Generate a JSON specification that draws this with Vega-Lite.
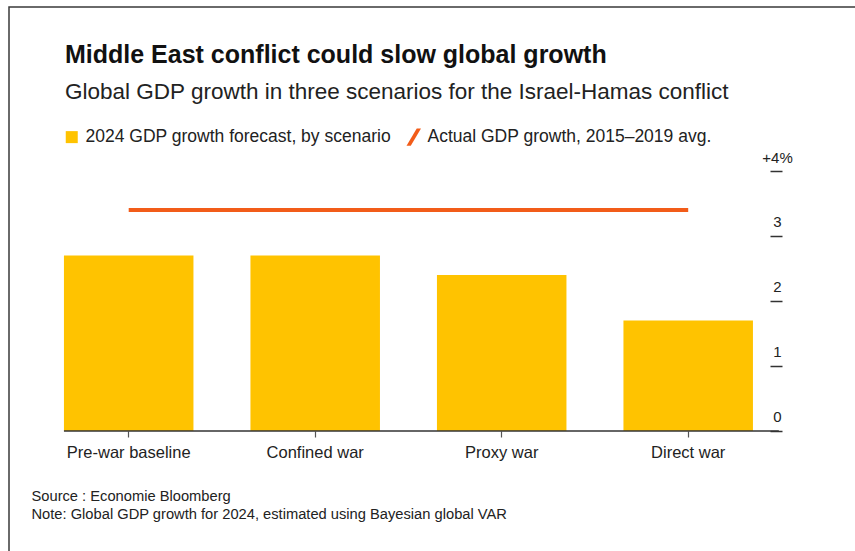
{
  "$schema": "https://vega.github.io/schema/vega-lite/v6.json",
  "width": 846,
  "height": 544,
  "autosize": {"type": "none"},
  "padding": {"left": 9, "top": 7, "right": 0, "bottom": 0},
  "background": "white",
  "config": {
    "view": {"stroke": "#3a3a3a", "strokeWidth": 1.5, "strokeDash": [846, 1390, 544, 10]},
    "font": "Liberation Sans"
  },
  "title": {
    "text": "Middle East conflict could slow global growth",
    "subtitle": "Global GDP growth in three scenarios for the Israel-Hamas conflict",
    "anchor": "start",
    "frame": "group",
    "orient": "top",
    "offset": -96,
    "dx": 56,
    "font": "Liberation Sans",
    "fontSize": 25,
    "fontWeight": "bold",
    "color": "#111111",
    "subtitleFont": "Liberation Sans",
    "subtitleFontSize": 22.5,
    "subtitleColor": "#222222",
    "subtitlePadding": 13
  },
  "datasets": {
    "bars": [
      {"scenario": "Pre-war baseline", "growth": 2.7, "series": "2024 GDP growth forecast, by scenario"},
      {"scenario": "Confined war", "growth": 2.7, "series": "2024 GDP growth forecast, by scenario"},
      {"scenario": "Proxy war", "growth": 2.4, "series": "2024 GDP growth forecast, by scenario"},
      {"scenario": "Direct war", "growth": 1.7, "series": "2024 GDP growth forecast, by scenario"}
    ],
    "avg": [
      {"from": "Pre-war baseline", "to": "Direct war", "growth": 3.4, "series": "Actual GDP growth, 2015–2019 avg."}
    ],
    "base": [
      {"from": "Pre-war baseline", "to": "Direct war", "growth": 0}
    ]
  },
  "layer": [
    {
      "data": {"name": "bars"},
      "mark": {"type": "bar"},
      "encoding": {
        "x": {
          "field": "scenario",
          "type": "nominal",
          "sort": null,
          "scale": {
            "type": "band",
            "domain": ["Pre-war baseline", "Confined war", "Proxy war", "Direct war"],
            "paddingInner": 0.3056,
            "paddingOuter": 0.4209,
            "align": 0.35
          },
          "axis": {
            "orient": "bottom",
            "offset": -120,
            "domain": false,
            "grid": false,
            "ticks": true,
            "tickSize": 6,
            "tickColor": "#555555",
            "tickWidth": 1.2,
            "labelAngle": 0,
            "labelFont": "Liberation Sans",
            "labelFontSize": 16.5,
            "labelColor": "#222222",
            "labelPadding": 7,
            "title": ["Source : Economie Bloomberg", "Note: Global GDP growth for 2024, estimated using Bayesian global VAR"],
            "titleX": 22,
            "titleY": 69,
            "titleAlign": "left",
            "titleAngle": 0,
            "titleBaseline": "alphabetic",
            "titleFont": "Liberation Sans",
            "titleFontSize": 14.7,
            "titleFontWeight": "normal",
            "titleColor": "#222222",
            "titleLineHeight": 18
          }
        },
        "y": {
          "field": "growth",
          "type": "quantitative",
          "scale": {"domain": [-1.8462, 6.5231], "zero": false, "nice": false},
          "axis": {
            "orient": "right",
            "offset": -85,
            "values": [0, 1, 2, 3, 4],
            "domain": false,
            "grid": false,
            "tickSize": 12,
            "tickColor": "#333333",
            "tickWidth": 1.5,
            "labelAlign": "center",
            "labelBaseline": "alphabetic",
            "labelPadding": -5,
            "labelOffset": -9,
            "labelFont": "Liberation Sans",
            "labelFontSize": 15,
            "labelColor": "#222222",
            "labelExpr": "datum.value == 4 ? '+4%' : format(datum.value, 'd')",
            "title": null
          }
        },
        "y2": {"datum": 0},
        "color": {
          "field": "series",
          "type": "nominal",
          "scale": {
            "domain": ["2024 GDP growth forecast, by scenario", "Actual GDP growth, 2015–2019 avg."],
            "range": ["#FFC300", "#F25C19"]
          },
          "legend": {
            "orient": "none",
            "legendX": 54,
            "legendY": 121,
            "direction": "horizontal",
            "title": null,
            "padding": 0,
            "symbolSize": 256,
            "labelFont": "Liberation Sans",
            "labelFontSize": 17.5,
            "labelColor": "#222222",
            "labelOffset": 5,
            "labelLimit": 0,
            "columnPadding": 14,
            "encode": {
              "symbols": {
                "update": {
                  "shape": {"signal": "datum.index === 1 ? 'M0.35,-1L0.85,-1L-0.35,1L-0.85,1Z' : 'square'"},
                  "size": {"signal": "datum.index === 1 ? 290 : 144"},
                  "fill": {"signal": "datum.index === 1 ? '#F25C19' : '#FFC300'"},
                  "stroke": {"value": "transparent"},
                  "strokeWidth": {"value": 0},
                  "opacity": {"value": 1}
                }
              }
            }
          }
        }
      }
    },
    {
      "data": {"name": "base"},
      "mark": {"type": "rule", "color": "#333333", "strokeWidth": 1.5},
      "encoding": {
        "x": {"field": "from", "type": "nominal", "bandPosition": 0},
        "x2": {"field": "to", "bandPosition": 1.2},
        "y": {"field": "growth", "type": "quantitative"}
      }
    },
    {
      "data": {"name": "avg"},
      "mark": {"type": "rule", "strokeWidth": 4, "strokeCap": "butt"},
      "encoding": {
        "x": {"field": "from", "type": "nominal", "bandPosition": 0.5},
        "x2": {"field": "to", "bandPosition": 0.5},
        "y": {"field": "growth", "type": "quantitative"},
        "color": {"field": "series", "type": "nominal"}
      }
    }
  ]
}
